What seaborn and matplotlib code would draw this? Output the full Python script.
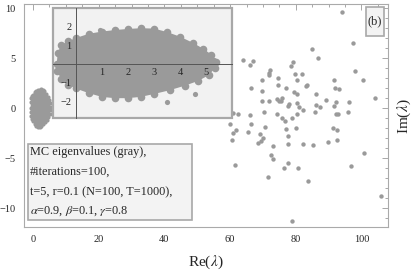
import numpy as np
import pandas as pd
import matplotlib
matplotlib.use("Agg")
import matplotlib.pyplot as plt
import matplotlib.patches as patches
from matplotlib.ticker import MultipleLocator, FixedLocator
import seaborn as sns

# eigenvalues of the data (N=100)
re_vals = [94.2, 97.5, 84.8, 86.8, 63.9, 67.0, 66.0, 79.1, 78.5, 97.9,
           72.1, 71.9, 71.7, 79.8, 81.9, 69.8, 74.6, 80.5, 91.6, 100.4,
           66.4, 69.8, 74.6, 77.0, 79.5, 80.3, 83.5, 83.0, 91.9, 93.1,
           86.1, 104.1, 69.8, 71.8, 74.2, 75.0, 75.8, 75.6, 78.0, 77.6,
           80.5, 81.0, 82.3, 86.1, 87.4, 89.1, 92.2, 91.7, 96.1, 95.8,
           85.9, 92.2, 92.8, 80.3, 74.2, 70.2, 61.0, 62.3, 66.1, 75.7,
           76.7, 78.8, 60.0, 66.3, 70.6, 76.9, 80.2, 91.2, 92.4, 61.8,
           61.0, 65.5, 69.1, 77.7, 60.6, 70.1, 69.3, 68.6, 77.6, 82.3,
           85.1, 89.7, 92.4, 73.2, 72.5, 100.9, 61.4, 73.0, 76.3, 77.7,
           80.7, 71.4, 83.6, 96.7, 106.0, 78.8]
im_vals = [9.6, 6.56, 5.9, 5.0, 4.83, 4.7, 4.36, 4.63, 4.23, 3.76,
           3.83, 3.56, 3.36, 3.43, 3.43, 2.8, 3.0, 2.86, 2.86, 2.8,
           2.0, 1.73, 2.33, 2.06, 1.66, 1.4, 2.33, 2.2, 2.06, 1.93,
           1.4, 1.0, 0.73, 0.73, 0.93, 0.73, 1.0, 0.73, 0.46, 0.26,
           0.53, 0.13, -0.2, 0.33, 0.13, 0.86, 0.6, 0.26, 0.6, -0.4,
           -0.34, -0.54, -0.6, -0.54, -0.6, -0.4, -0.47, -0.54, -0.64, -0.94,
           -1.27, -1.0, -1.54, -1.6, -1.87, -2.07, -1.94, -2.0, -2.14, -2.2,
           -2.47, -2.34, -2.54, -2.8, -3.14, -2.94, -3.27, -3.47, -3.54, -3.54,
           -3.67, -3.4, -3.14, -3.74, -4.62, -4.5, -5.7, -5.1, -5.97, -5.44,
           -6.0, -6.84, -7.24, -5.77, -8.74, -11.27]

# outline of the dense Monte Carlo cloud around the origin
cloud_re = [-0.72, -0.68, -0.55, -0.3, 0.0, 0.5, 1.0, 1.5, 2.0, 2.5, 3.0, 3.5,
            4.0, 4.5, 4.9, 5.2, 5.38, 5.35, 5.1, 4.7, 4.2, 3.6, 3.0, 2.5,
            2.0, 1.5, 1.0, 0.5, 0.0, -0.3, -0.55, -0.7]
cloud_im = [0.0, 0.6, 1.0, 1.2, 1.37, 1.6, 1.72, 1.8, 1.86, 1.9, 1.88, 1.7,
            1.45, 1.12, 0.8, 0.5, 0.1, -0.2, -0.6, -0.9, -1.15, -1.4, -1.6, -1.75,
            -1.82, -1.82, -1.75, -1.55, -1.3, -1.1, -0.8, -0.4]
# loose MC points outside the dense part
mc_out_re = [0.94, 3.49, 4.58, 5.3]
mc_out_im = [1.81, -2.0, -1.61, 0.2]

x_ticks = [0, 20, 40, 60, 80, 100]
y_ticks = [-10, -5, 0, 5, 10]
inset_xticks = [1, 2, 3, 4, 5]
inset_yticks = [-2, -1, 1, 2]

note_lines = ["MC eigenvalues (gray),",
              "#iterations=100,",
              "t=5, r=0.1 (N=100, T=1000),",
              r"$\alpha$=0.9, $\beta$=0.1, $\gamma$=0.8"]

data = pd.DataFrame({"re": re_vals, "im": im_vals})
cloud = pd.DataFrame({"re": cloud_re, "im": cloud_im})
mc_out = pd.DataFrame({"re": mc_out_re, "im": mc_out_im})

sns.set_style("white")
plt.rcParams["font.family"] = ["Liberation Serif", "DejaVu Serif"]
plt.rcParams["mathtext.fontset"] = "stix"

gray = "#9a9a9a"
W, H = 415, 272
fx = lambda px: px / W
fy = lambda py: 1 - py / H

fig = plt.figure(figsize=(4.15, 2.72), dpi=100)
ax = fig.add_axes([fx(24), fy(227), (388 - 24) / W, (227 - 3.5) / H])

ax.fill(cloud["re"], cloud["im"], color=gray, lw=0)
sns.scatterplot(data=cloud, x="re", y="im", ax=ax, color=gray, s=9, linewidth=0)
sns.scatterplot(data=data, x="re", y="im", ax=ax, color=gray, s=10, linewidth=0)

ax.set_xlim(-2.74, 108.07)
ax.set_ylim(-11.87, 10.48)
ax.xaxis.set_major_locator(FixedLocator(x_ticks))
ax.xaxis.set_minor_locator(MultipleLocator(5))
ax.yaxis.set_major_locator(FixedLocator(y_ticks))
ax.yaxis.set_minor_locator(MultipleLocator(1))
ax.tick_params(which="both", direction="in", top=True, right=True,
               color="#999999", width=0.6, labelsize=7.5, pad=6)
ax.tick_params(which="major", length=4)
ax.tick_params(which="minor", length=2)
for sp in ax.spines.values():
    sp.set_color("#aaaaaa")
    sp.set_linewidth(0.8)

ax.set_xlabel(r"Re($\lambda$)", fontsize=11)
ax.xaxis.set_label_coords(0.5, (227 - 254) / 223.5)
ax.set_ylabel(r"Im($\lambda$)", fontsize=11)
ax.yaxis.set_label_position("right")
ax.yaxis.set_label_coords((396 - 24) / 364, (227 - 116) / 223.5)

# inset: zoom on the MC cloud
ax_in = fig.add_axes([fx(53.3), fy(118.3), 178.4 / W, 110.6 / H])
ax_in.set_axisbelow(False)
ax_in.fill(cloud["re"], cloud["im"], color=gray, lw=0)
sns.scatterplot(data=cloud, x="re", y="im", ax=ax_in, color=gray, s=30, linewidth=0)
sns.scatterplot(data=mc_out, x="re", y="im", ax=ax_in, color=gray, s=14, linewidth=0)
ax_in.set_xlim(-0.85, 5.98)
ax_in.set_ylim(-2.89, 2.99)
ax_in.set_xlabel("")
ax_in.set_ylabel("")
ax_in.patch.set_facecolor("#f2f2f2")
ax_in.patch.set_edgecolor("#a8a8a8")
ax_in.patch.set_linewidth(1.6)
ax_in.spines["top"].set_visible(False)
ax_in.spines["right"].set_visible(False)
for side in ["left", "bottom"]:
    ax_in.spines[side].set_position(("data", 0))
    ax_in.spines[side].set_color("#555555")
    ax_in.spines[side].set_linewidth(0.7)
ax_in.xaxis.set_major_locator(FixedLocator(inset_xticks))
ax_in.xaxis.set_minor_locator(MultipleLocator(0.2))
ax_in.yaxis.set_major_locator(FixedLocator(inset_yticks))
ax_in.yaxis.set_minor_locator(MultipleLocator(0.2))
ax_in.tick_params(which="both", direction="in", color="#555555", width=0.6,
                  labelsize=7.5, pad=3)
ax_in.tick_params(which="major", length=3)
ax_in.tick_params(which="minor", length=1.5)

# note box
fig.add_artist(patches.Rectangle((fx(28.3), fy(220)), (191.7 - 28.3) / W, (220 - 144) / H,
                                 transform=fig.transFigure, fc="#f3f3f3", ec="#a8a8a8", lw=1.2))
for i, line in enumerate(note_lines):
    fig.text(fx(30), fy(152 + 19.9 * i), line, fontsize=8.8, va="center", ha="left")

# panel tag
fig.add_artist(patches.Rectangle((fx(365.7), fy(36)), (384.3 - 365.7) / W, (36 - 7.3) / H,
                                 transform=fig.transFigure, fc="#f3f3f3", ec="#a8a8a8", lw=1.2))
fig.text(fx(375), fy(21.7), "(b)", fontsize=9, va="center", ha="center")

fig.savefig("out.png", dpi=100)
